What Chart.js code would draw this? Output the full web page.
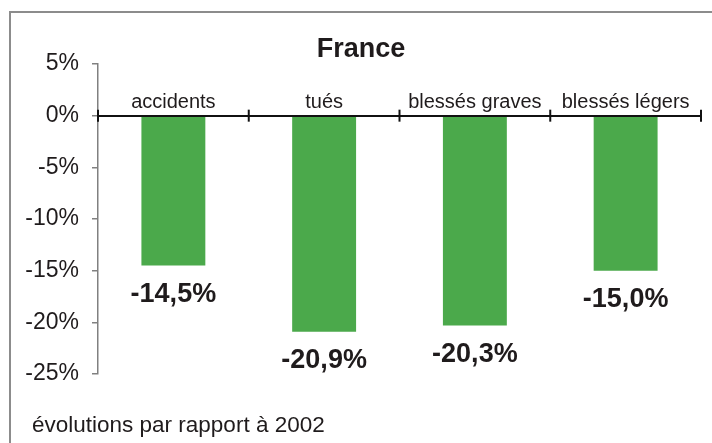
<!DOCTYPE html>
<html>
<head>
<meta charset="utf-8">
<script src="https://cdn.jsdelivr.net/npm/chart.js@4/dist/chart.umd.min.js"></script>
<style>
  html, body { margin: 0; padding: 0; background: #fff; overflow: hidden; }
  #wrap { position: relative; width: 712px; height: 443px; }
  #frame { position: absolute; left: 9px; top: 11px; width: 720px; height: 450px;
           border-top: 2px solid #8c8c8c; border-left: 2px solid #8c8c8c; }
  canvas { position: absolute; left: 0; top: 0; }
</style>
</head>
<body>
<div id="wrap">
  <div id="frame"></div>
  <canvas id="evoChart" width="712" height="443"></canvas>
</div>
<script>
const categories = ['accidents', 'tués', 'blessés graves', 'blessés légers'];
const evolution = [-14.5, -20.9, -20.3, -15.0];
const yTicks = [5, 0, -5, -10, -15, -20, -25];
const chartTitle = 'France';
const footNote = 'évolutions par rapport à 2002';

const FONT = '"Liberation Sans", Arial, Helvetica, sans-serif';
const INK = '#1f1b1c';

const fmt = v => v.toFixed(1).replace('.', ',') + '%';

// valeurs en gras sous chaque barre
const valueLabels = {
    id: 'valueLabels',
    afterDatasetsDraw(chart) {
        const ctx = chart.ctx;
        const meta = chart.getDatasetMeta(0);
        ctx.save();
        ctx.font = 'bold 27px ' + FONT;
        ctx.fillStyle = INK;
        ctx.textAlign = 'center';
        ctx.textBaseline = 'middle';
        meta.data.forEach((bar, i) => {
            ctx.fillText(fmt(evolution[i]), bar.x, bar.y + 29);
        });
        ctx.restore();
    }
};

// petits traits qui traversent l'axe 0 entre les catégories
const crossTicks = {
    id: 'crossTicks',
    afterDraw(chart) {
        const x = chart.scales.x, y = chart.scales.y;
        const ctx = chart.ctx;
        const y0 = y.getPixelForValue(0);
        const half = (x.getPixelForValue(1) - x.getPixelForValue(0)) / 2;
        ctx.save();
        ctx.strokeStyle = '#111';
        ctx.lineWidth = 2;
        for (let i = 0; i <= categories.length; i++) {
            const px = i < categories.length ? x.getPixelForValue(i) - half
                                              : x.getPixelForValue(i - 1) + half;
            ctx.beginPath();
            ctx.moveTo(px, y0 - 6);
            ctx.lineTo(px, y0 + 6);
            ctx.stroke();
        }
        ctx.restore();
    }
};

const footNotePlugin = {
    id: 'footNote',
    afterDraw(chart) {
        const ctx = chart.ctx;
        ctx.save();
        ctx.font = '22.5px ' + FONT;
        ctx.fillStyle = INK;
        ctx.textAlign = 'left';
        ctx.textBaseline = 'alphabetic';
        ctx.fillText(footNote, 32, 432);
        ctx.restore();
    }
};

const ctx = document.getElementById('evoChart').getContext('2d');

new Chart(ctx, {
    type: 'bar',
    data: {
        labels: categories,
        datasets: [{
            data: evolution,
            backgroundColor: '#4ba94b',
            borderWidth: 0,
            barPercentage: 0.424,
            categoryPercentage: 1
        }]
    },
    options: {
        responsive: false,
        devicePixelRatio: 1,
        animation: false,
        layout: { padding: { left: 21, right: 11, top: 36, bottom: 69 } },
        plugins: {
            legend: { display: false },
            tooltip: { enabled: false },
            title: {
                display: true,
                text: chartTitle,
                color: INK,
                font: { family: FONT, size: 27, weight: 'bold', lineHeight: 1 },
                padding: { top: 0, bottom: 1 }
            }
        },
        scales: {
            x: {
                position: { y: 0 },
                grid: { display: true, drawOnChartArea: false, drawTicks: false },
                border: { display: true, color: '#111', width: 2, z: 1 },
                ticks: {
                    color: INK,
                    font: { family: FONT, size: 20 },
                    padding: -25,
                    maxRotation: 0,
                    autoSkip: false
                },
                afterFit(scale) {
                    scale.paddingLeft = 0;
                    scale.paddingRight = 0;
                }
            },
            y: {
                min: -25,
                max: 5,
                afterBuildTicks(scale) {
                    scale.ticks = yTicks.map(v => ({ value: v }));
                },
                grid: {
                    drawOnChartArea: false,
                    drawTicks: true,
                    tickLength: 6,
                    color: '#808080',
                    lineWidth: 1.5
                },
                border: { display: true, color: '#808080', width: 1.5 },
                ticks: {
                    color: INK,
                    font: { family: FONT, size: 23 },
                    padding: 13,
                    callback: v => v + '%'
                },
                afterFit(scale) {
                    scale.width = 77;
                    scale.paddingTop = 0;
                    scale.paddingBottom = 0;
                }
            }
        }
    },
    plugins: [valueLabels, crossTicks, footNotePlugin]
});
</script>
</body>
</html>
